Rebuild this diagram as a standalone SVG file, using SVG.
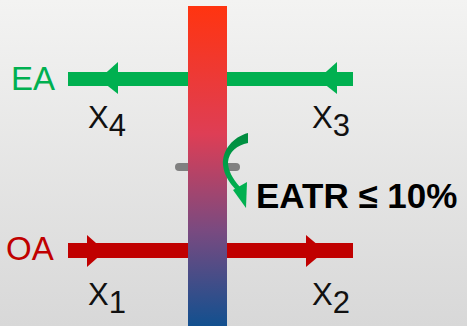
<svg xmlns="http://www.w3.org/2000/svg" width="467" height="326" viewBox="0 0 467 326">
<defs>
<linearGradient id="bg" x1="0" y1="0" x2="0" y2="1"><stop offset="0" stop-color="#F3F3F2"/><stop offset="1" stop-color="#D8D8D8"/></linearGradient>
<linearGradient id="bar" x1="0" y1="0" x2="0" y2="1"><stop offset="0" stop-color="#FF3410"/><stop offset="0.4" stop-color="#DE3E55"/><stop offset="0.7" stop-color="#7A4A80"/><stop offset="1" stop-color="#12508F"/></linearGradient>
<linearGradient id="crv" x1="0" y1="0" x2="0" y2="1"><stop offset="0" stop-color="#008A3E"/><stop offset="1" stop-color="#00B050"/></linearGradient>
<style>
.lbl{font-family:"Liberation Sans",Arial,sans-serif;font-size:31px;fill:#111}
.big{font-family:"Liberation Sans",Arial,sans-serif;font-size:33px}
</style>
</defs>
<rect width="467" height="326" fill="url(#bg)"/>
<g id="connectors">
<g id="ea-flow" fill="#00B050">
<rect x="68" y="72" width="285" height="14"/>
<polygon points="118,62 118,94 99,79"/>
<polygon points="337,62 337,94 318,79"/>
</g>
<g id="oa-flow" fill="#C00000">
<rect x="68" y="243" width="285" height="15"/>
<polygon points="87,235 87,267 105,251"/>
<polygon points="306,235 306,267 325,251"/>
</g>
</g>
<g id="exchanger">
<rect x="175" y="163" width="65" height="8" rx="4" fill="#808080"/>
<rect x="188" y="6" width="39" height="320" fill="url(#bar)"/>
</g>
<g id="leak-arrow">
<path d="M248,133 C233,137 222,150 223,165 C224,175 229,182 236,190 L240,187 C232,178 228,170 228,162 C229,152 237,145 248,143 Z" fill="url(#crv)"/>
<polygon points="233,190 247,182 246,208" fill="#00B050"/>
</g>
<g id="labels">
<text x="11" y="90" class="big" fill="#00B050">EA</text>
<text x="6" y="260" class="big" fill="#C00000">OA</text>
<text x="88" y="128" class="lbl">X<tspan dy="8">4</tspan></text>
<text x="312" y="128" class="lbl">X<tspan dy="8">3</tspan></text>
<text x="88" y="305" class="lbl">X<tspan dy="8">1</tspan></text>
<text x="312" y="305" class="lbl">X<tspan dy="8">2</tspan></text>
<text x="256" y="208" font-family="Liberation Sans, Arial, sans-serif" font-size="35" font-weight="bold" fill="#000">EATR ≤ 10%</text>
</g>
</svg>
